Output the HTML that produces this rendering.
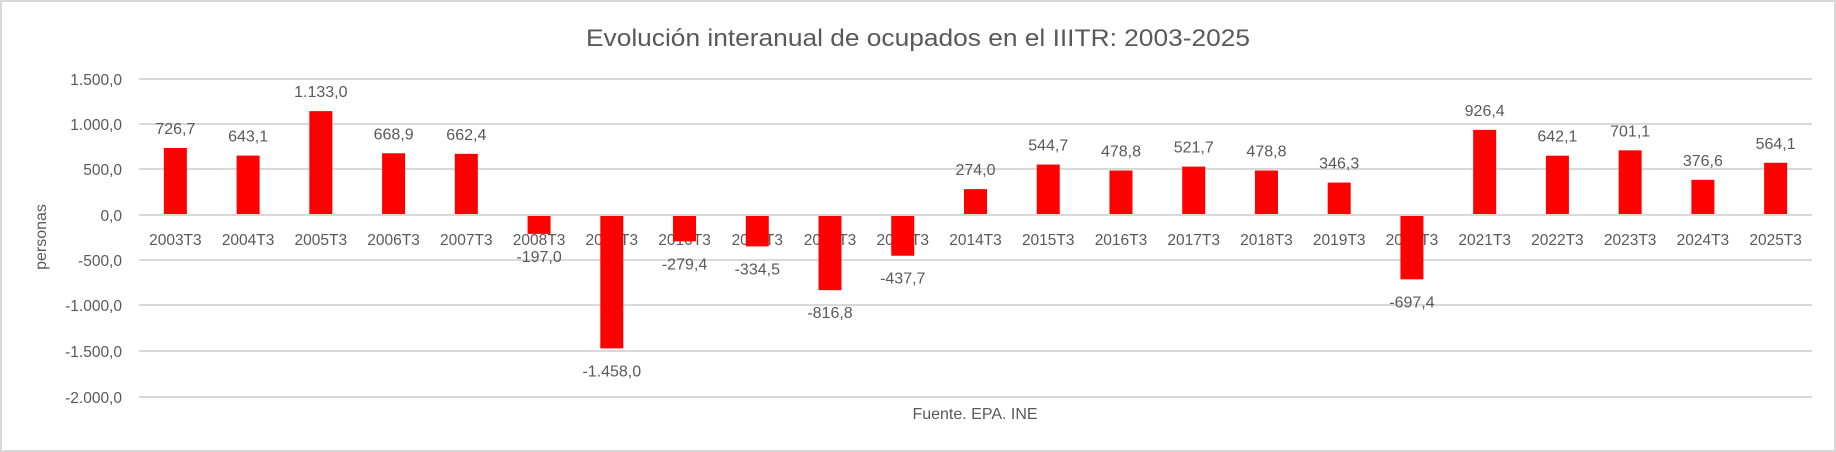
<!DOCTYPE html>
<html><head><meta charset="utf-8"><style>
html,body{margin:0;padding:0;background:#fff;}
svg{display:block;}
text{font-family:"Liberation Sans",sans-serif;fill:#595959;}
</style></head><body>
<svg width="1836" height="452" xmlns="http://www.w3.org/2000/svg">
<rect x="1" y="1" width="1834" height="450" fill="#fff" stroke="#d9d9d9" stroke-width="2"/>
<text x="918" y="46" font-size="24" text-anchor="middle" textLength="664" lengthAdjust="spacingAndGlyphs">Evolución interanual de ocupados en el IIITR: 2003-2025</text>
<g stroke="#d9d9d9" stroke-width="2">
<line x1="139" x2="1812" y1="79" y2="79"/>
<line x1="139" x2="1812" y1="124" y2="124"/>
<line x1="139" x2="1812" y1="169" y2="169"/>
<line x1="139" x2="1812" y1="215" y2="215"/>
<line x1="139" x2="1812" y1="260" y2="260"/>
<line x1="139" x2="1812" y1="305" y2="305"/>
<line x1="139" x2="1812" y1="351" y2="351"/>
<line x1="139" x2="1812" y1="397" y2="397"/>
</g>
<g font-size="15.5" text-anchor="end">
<text x="122" y="85">1.500,0</text>
<text x="122" y="130">1.000,0</text>
<text x="122" y="175">500,0</text>
<text x="122" y="221">0,0</text>
<text x="122" y="266">-500,0</text>
<text x="122" y="311">-1.000,0</text>
<text x="122" y="357">-1.500,0</text>
<text x="122" y="403">-2.000,0</text>
</g>
<text transform="translate(46,237) rotate(-90)" font-size="16" text-anchor="middle">personas</text>
<text x="975" y="419" font-size="16" text-anchor="middle">Fuente. EPA. INE</text>
<g id="cats" font-size="15.5" text-anchor="middle"></g>
<g id="bars" fill="#ff0000"></g>
<g id="lbls" font-size="16" text-anchor="middle"></g>
<script>
var vals=[726.7,643.1,1133.0,668.9,662.4,-197.0,-1458.0,-279.4,-334.5,-816.8,-437.7,274.0,544.7,478.8,521.7,478.8,346.3,-697.4,926.4,642.1,701.1,376.6,564.1];
var ns="http://www.w3.org/2000/svg";
function fmt(v){var a=Math.abs(v).toFixed(1).split('.');var i=a[0];if(i.length>3)i=i.slice(0,i.length-3)+'.'+i.slice(-3);return (v<0?'-':'')+i+','+a[1];}
var cw=(1812-139)/23,s=45.4/500;
for(var k=0;k<23;k++){
 var cx=139+cw*(k+0.5),v=vals[k],h=Math.abs(v)*s;
 var t=document.createElementNS(ns,'text');t.setAttribute('x',cx);t.setAttribute('y',245);t.textContent=(2003+k)+'T3';document.getElementById('cats').appendChild(t);
 var r=document.createElementNS(ns,'rect');r.setAttribute('x',cx-11.5);r.setAttribute('width',23);
 if(v>=0){r.setAttribute('y',214-h);r.setAttribute('height',h);}else{r.setAttribute('y',216);r.setAttribute('height',h);}
 document.getElementById('bars').appendChild(r);
 var l=document.createElementNS(ns,'text');l.setAttribute('x',cx);
 l.setAttribute('y',v>=0?(214-h-14):(216+h+28));l.textContent=fmt(v);document.getElementById('lbls').appendChild(l);
}
</script>
</svg>
</body></html>
